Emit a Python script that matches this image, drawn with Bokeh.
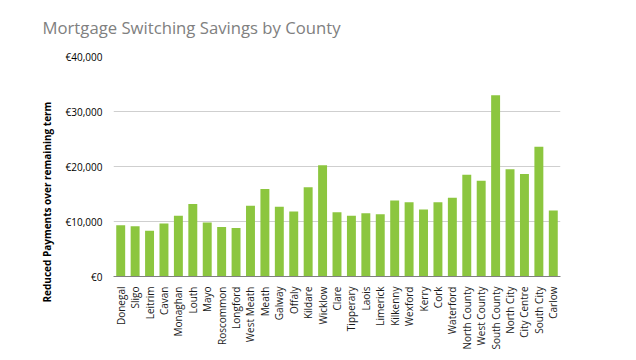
from bokeh.plotting import figure
from bokeh.models import ColumnDataSource, FixedTicker, Range1d, Title
from bokeh.embed import file_html
from bokeh.resources import INLINE

counties = ["Donegal", "Sligo", "Leitrim", "Cavan", "Monaghan", "Louth", "Mayo",
            "Roscommon", "Longford", "West Meath", "Meath", "Galway", "Offaly",
            "Kildare", "Wicklow", "Clare", "Tipperary", "Laois", "Limerick",
            "Kilkenny", "Wexford", "Kerry", "Cork", "Waterford", "North County",
            "West County", "South County", "North City", "City Centre",
            "South City", "Carlow"]
savings = [9300, 9150, 8320, 9640, 11030, 13190, 9820, 8980, 8800, 12880,
           15890, 12700, 11800, 16250, 20220, 11680, 11030, 11500, 11320,
           13840, 13480, 12160, 13480, 14320, 18520, 17390, 32940, 19490,
           18650, 23570, 11980]
y_ticks = [0, 10000, 20000, 30000, 40000]
y_tick_labels = {t: "€{:,}".format(t) for t in y_ticks}

source = ColumnDataSource(data=dict(county=counties, savings=savings))

p = figure(x_range=counties, y_range=Range1d(0, 40000), width=628, height=352,
           output_backend="svg", toolbar_location=None,
           min_border_left=113, min_border_right=68, min_border_top=55,
           min_border_bottom=75)

p.vbar(x="county", top="savings", width=0.62, source=source,
       fill_color="#8CC63F", line_color=None)

p.title.text = "Mortgage Switching Savings by County"
p.title.text_font = "Open Sans"
p.title.text_font_size = "16.7px"
p.title.text_font_style = "normal"
p.title.text_color = "#808080"
p.title.align = "left"
p.title.vertical_align = "top"
p.title.offset = -71
p.title.standoff = 31

p.outline_line_color = None
p.xgrid.grid_line_color = None
p.ygrid.ticker = FixedTicker(ticks=y_ticks)
p.ygrid.grid_line_color = "#cfcfcf"
p.ygrid.grid_line_width = 1

p.yaxis.ticker = FixedTicker(ticks=y_ticks)
p.yaxis.major_label_overrides = y_tick_labels
p.yaxis.axis_line_color = None
p.yaxis.major_tick_line_color = None
p.yaxis.minor_tick_line_color = None
p.yaxis.major_label_text_font = "Open Sans"
p.yaxis.major_label_text_font_size = "10px"
p.yaxis.major_label_text_color = "#000000"
p.yaxis.major_label_standoff = 5

ylabel = Title(text="Reduced Payments over remaining term",
               text_font="Open Sans", text_font_size="10px",
               text_font_style="bold", text_color="#000000",
               align="left", offset=-26, standoff=18)
p.add_layout(ylabel, "left")

p.xaxis.axis_line_color = "#808080"
p.xaxis.major_tick_line_color = None
p.xaxis.minor_tick_line_color = None
p.xaxis.major_label_orientation = 1.5708
p.xaxis.major_label_text_font = "Open Sans"
p.xaxis.major_label_text_font_size = "10px"
p.xaxis.major_label_text_font_style = "normal"
p.xaxis.major_label_text_color = "#1a1a1a"
p.xaxis.major_label_standoff = 4

open("out.html", "w").write(file_html(p, INLINE))
